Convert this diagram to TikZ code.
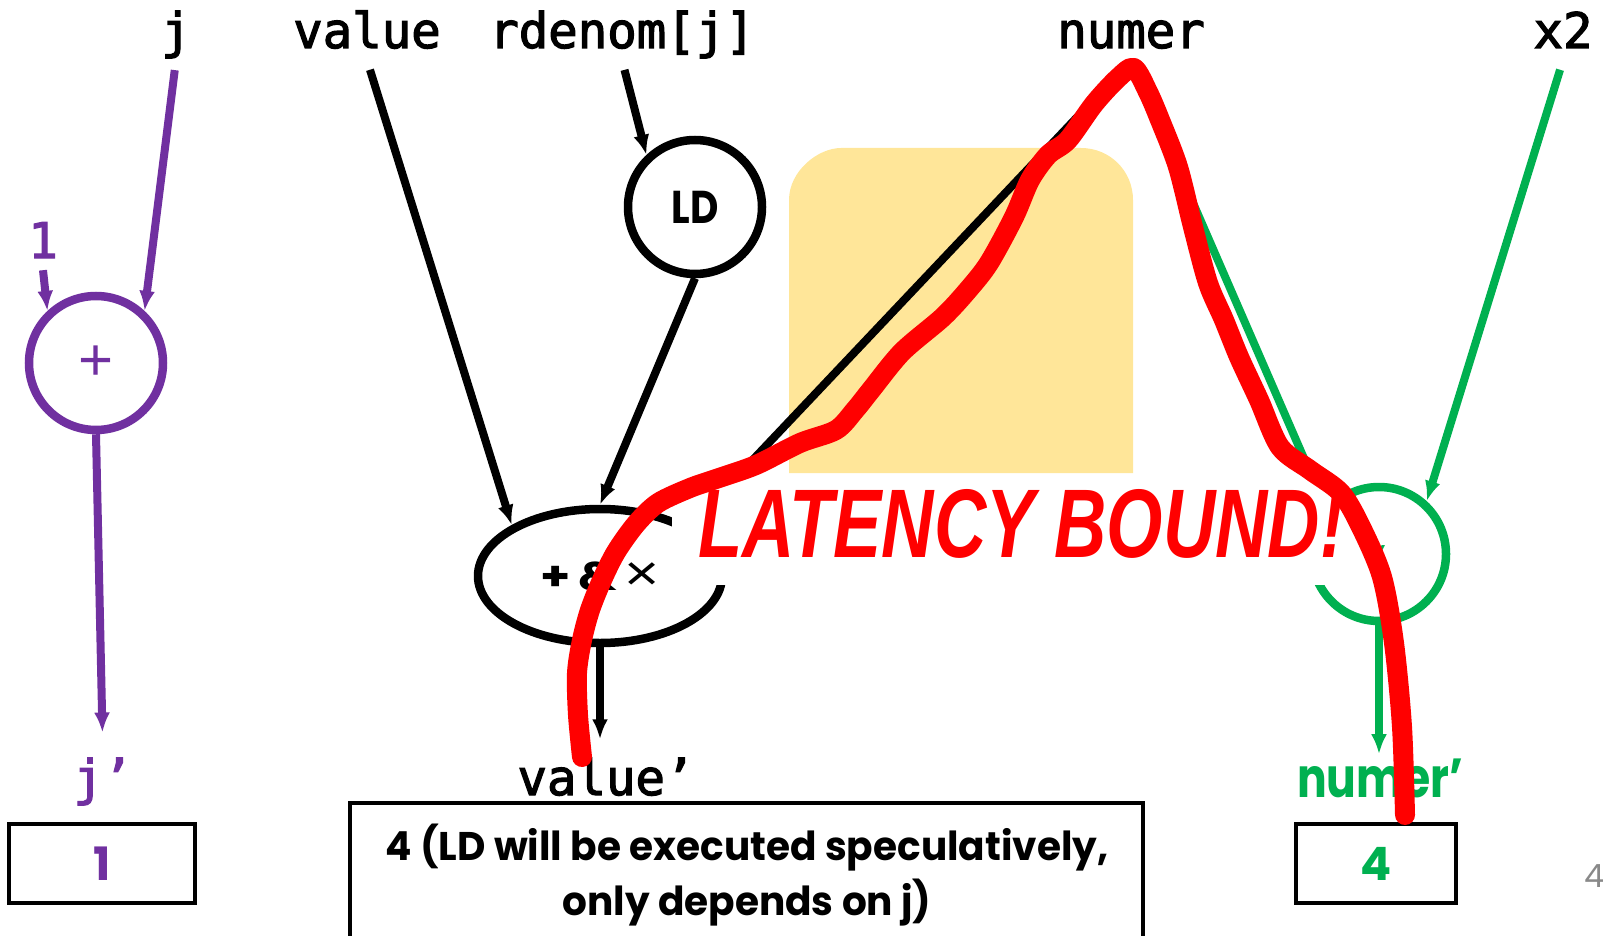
\documentclass[tikz,border=0pt]{standalone}
\usepackage{fontspec}
\usepackage{graphicx}
\newfontfamily\monof{DejaVu Sans Mono}[FakeBold=2.5]
\newfontfamily\futf{Poppins}
\newfontfamily\redf{Liberation Sans}
\usetikzlibrary{arrows.meta,shapes.geometric}
\definecolor{ppl}{HTML}{7030A0}
\definecolor{grn}{HTML}{00B050}
\definecolor{orng}{HTML}{FFE699}
\definecolor{pgray}{HTML}{898989}
\definecolor{redink}{HTML}{FF0000}
\newcommand\monolbl{\monof\fontsize{49pt}{49pt}\selectfont}
\newcommand\futb[1]{\futf\bfseries\fontsize{#1}{#1}\selectfont}
\begin{document}
\begin{tikzpicture}[x=1pt,y=-1pt,
  toplbl/.style={inner sep=0pt, anchor=base, text depth=12pt, font=\monolbl},
  botlbl/.style={inner sep=0pt, anchor=base},
  circ/.style={circle, draw, line width=8.5pt, minimum size=134pt, inner sep=0pt},
  arr/.style={line width=8pt, -{Latex[length=20pt,width=16pt]}},
  valbox/.style={draw, line width=4pt, rectangle, inner sep=0pt, minimum height=79pt}
]
\useasboundingbox (0,0) rectangle (1603,936);

% highlighted area
\fill[orng] (789,473) -- (789,200) .. controls (789,171) and (818,148) .. (841,148)
  -- (1081,148) .. controls (1110,148) and (1133,171) .. (1133,200) -- (1133,473) -- cycle;

% top labels
\node[toplbl] (jlab) at (176,48) {j};
\node[toplbl] (vlab) at (367,48) {value};
\node[toplbl] (rlab) at (622,48) {rdenom[j]};
\node[toplbl] (nlab) at (1131,48) {numer};
\node[toplbl] (xlab) at (1563,48) {x2};
\node[toplbl, text=ppl] (one) at (43,258) {1};

% operation nodes
\node[circ, draw=ppl, text=ppl] (plus) at (96,363) {\redf\fontsize{60pt}{60pt}\selectfont\raisebox{-3pt}{+}};
\node[circ] (ld) at (695,207) {\resizebox{47pt}{\height}{\futb{46pt}LD}};
\node[ellipse, draw, line width=8.5pt, minimum width=244pt, minimum height=134pt, inner sep=0pt] (op) at (600,576)
  {\resizebox{120pt}{\height}{{\futb{40pt}+\,\&\,}{\redf\fontsize{50pt}{50pt}\selectfont ×}}};
\node[circ, draw=grn, text=grn] (div) at (1379,554) {\redf\fontsize{26pt}{26pt}\selectfont\scalebox{1.7}[0.9]{/}};

% bottom labels
\node[botlbl, font=\monolbl, text=ppl] (jp) at (103,795) {j’};
\node[botlbl, font=\monolbl] (vp) at (606,795) {value’};
\node[botlbl, text=grn] (np) at (1380,797) {\resizebox{166pt}{\height}{\futb{55pt}numer’}};

% value boxes
\node[valbox, minimum width=186pt, text=ppl] (b1) at (102,863.5) {\futb{46pt}1};
\node[valbox, minimum width=160pt, text=grn] (b4) at (1376,863.5) {\futb{46pt}4};
\node[valbox, minimum width=793pt, minimum height=154pt] (bigbox) at (746.5,880) {};
\node[botlbl] (l1) at (747,860) {\resizebox{723pt}{\height}{\futb{40pt}4 (LD will be executed speculatively,}};
\node[botlbl] (l2) at (747,915) {\resizebox{369pt}{\height}{\futb{40pt}only depends on j)}};

% connectors
\draw[arr, ppl, shorten <=10pt] (jlab.south) -- (plus.47);
\draw[arr, ppl] (one.south) -- (plus.133);
\draw[arr, ppl, shorten >=25pt] (plus.south) -- (jp.north);
\draw[arr, shorten <=10pt] (vlab.south) -- (op.150);
\draw[arr, shorten <=10pt] (rlab.south) -- (ld.133);
\draw[arr] (ld.south) -- (op.north);
\draw[arr, shorten <=10pt] (nlab.south) -- (op.29);
\draw[arr, shorten >=18pt] (op.south) -- (op.south |- vp.north);
\draw[arr, grn, shorten <=10pt] (nlab.south) -- (div.139);
\draw[arr, grn, shorten <=10pt] (xlab.south) -- (div.48);
\draw[arr, grn, shorten >=4pt] (div.south) -- (div.south |- np.north);

% annotation
\fill[white] (672,475) rectangle (1337,585);
\node[inner sep=0pt, anchor=base west, text=redink] (lat) at (698,557)
  {\resizebox{646pt}{68pt}{\redf\bfseries\itshape LATENCY BOUND!}};
\draw[redink, line width=20pt, line cap=round, line join=round]
  plot[smooth, tension=0.5] coordinates {
  (582,757) (578,715) (577,673) (582,640) (590,610) (602,580) (616,552) (636,524)
  (658,503) (690,488) (716,479) (756,465) (800,443) (836,430) (855,410) (871,390)
  (902,352) (943,317) (968,290) (989,263) (1014,217) (1030,180) (1048,155) (1068,140)
  (1094,104) (1118,78) (1134,68) (1148,92) (1160,120) (1178,167) (1193,227) (1208,283)
  (1224,320) (1239,357) (1259,400) (1280,447) (1310,470) (1341,493) (1361,527)
  (1382,577) (1394,643) (1402,727) (1405,815)};

% page number
\node[inner sep=0pt, anchor=base west, text=pgray] (pnum) at (1584,887) {\futf\fontsize{32pt}{32pt}\selectfont 4};
\end{tikzpicture}
\end{document}
